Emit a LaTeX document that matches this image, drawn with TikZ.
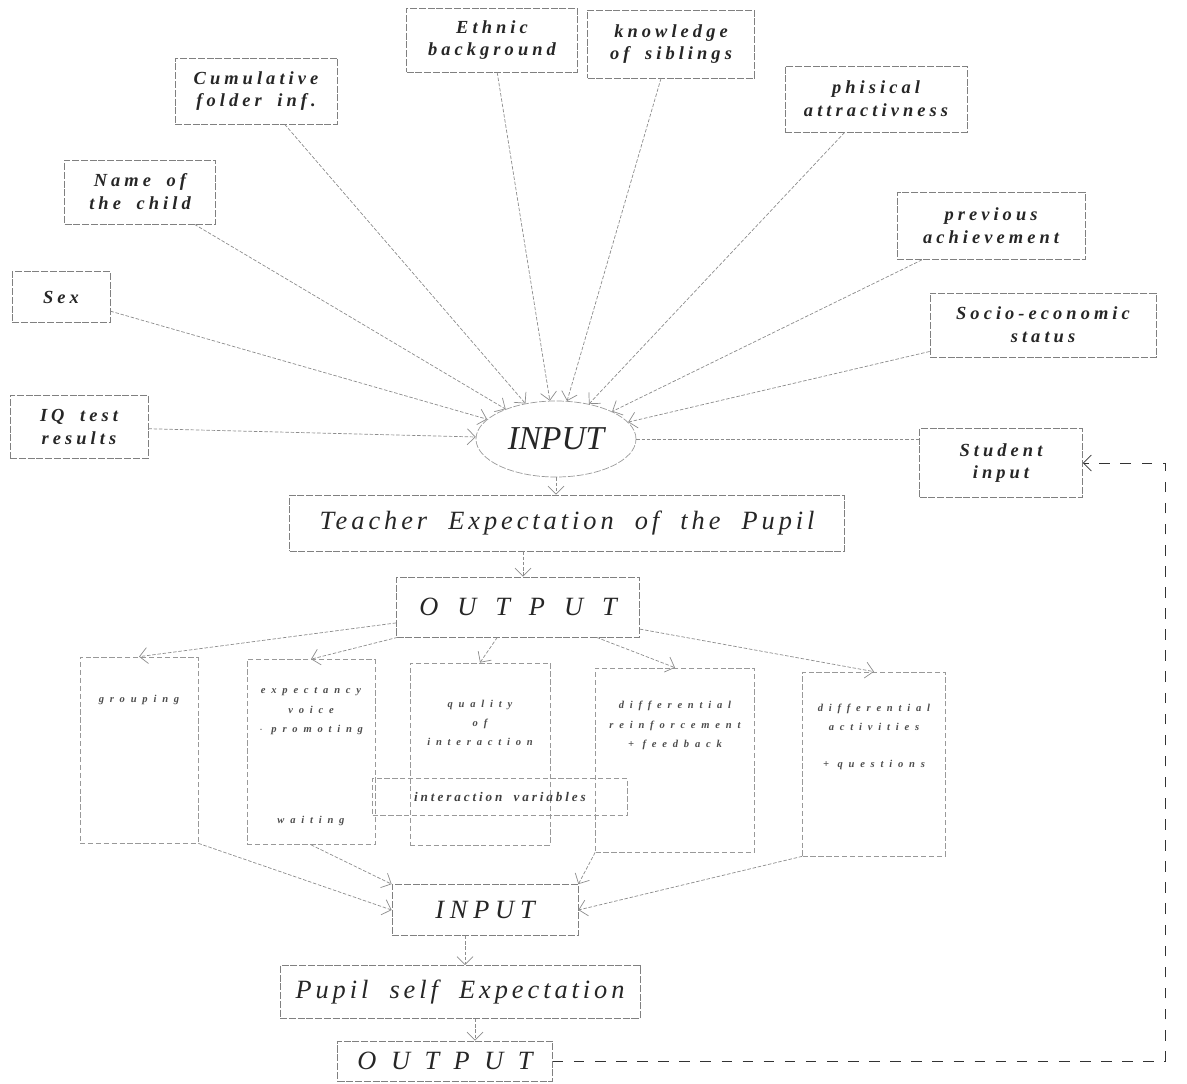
\documentclass[tikz,border=0pt]{standalone}
\usepackage{fontspec}
\setmainfont{Liberation Serif}
\newfontfamily\wide[LetterSpace=22,WordSpace=1.8]{Liberation Serif}
\newfontfamily\wider[LetterSpace=55,WordSpace=1.6]{Liberation Serif}
\newfontfamily\slight[LetterSpace=15,WordSpace=2]{Liberation Serif}
\newfontfamily\spread[LetterSpace=72]{Liberation Serif}
\newfontfamily\spreadless[LetterSpace=55]{Liberation Serif}
\usepackage{tikz}
\usetikzlibrary{arrows.meta,positioning,shapes.geometric}

\begin{document}
\begin{tikzpicture}[
    >={Straight Barb[length=1.6mm]},
    link/.style={->,thin,draw=black!45,dash pattern=on 2pt off 1pt},
    plain/.style={thin,draw=black!45,dash pattern=on 2pt off 1pt},
    feedback/.style={->,thin,draw=black!80,dash pattern=on 6pt off 6pt},
    box/.style={draw=black!50,thin,dash pattern=on 4pt off 1pt,
      align=center,inner sep=2pt,text=black!85},
    factor/.style={box,font=\wide\bfseries\itshape\fontsize{10.5}{13}\selectfont},
    stage/.style={box,font=\slight\itshape\fontsize{15}{18}\selectfont},
    hub/.style={ellipse,draw=black!40,thin,dash pattern=on 4pt off 1pt,
      font=\itshape\fontsize{19}{22}\selectfont,text=black!85},
    act/.style={draw=black!40,thin,dash pattern=on 3pt off 1.5pt},
    tiny/.style={align=center,text=black!70,
      font=\wider\bfseries\itshape\fontsize{6}{11}\selectfont}
  ]
    \useasboundingbox (0,0) rectangle (23.74,-21.66);

    % factors known to the teacher
    \node[factor,minimum width=3.42cm,minimum height=1.28cm] (ethnic) at (9.84,-0.80) {Ethnic\\background};
    \node[factor,minimum width=3.34cm,minimum height=1.36cm] (siblings) at (13.42,-0.88) {knowledge\\of siblings};
    \node[factor,minimum width=3.24cm,minimum height=1.32cm] (folder) at (5.12,-1.82) {Cumulative\\folder inf.};
    \node[factor,minimum width=3.64cm,minimum height=1.32cm] (looks) at (17.52,-1.98) {phisical\\attractivness};
    \node[factor,minimum width=3.02cm,minimum height=1.28cm] (name) at (2.80,-3.84) {Name of\\the child};
    \node[factor,minimum width=3.76cm,minimum height=1.34cm] (prev) at (19.82,-4.52) {previous\\achievement};
    \node[factor,minimum width=1.96cm,minimum height=1.02cm] (sex) at (1.22,-5.94) {Sex};
    \node[factor,minimum width=4.52cm,minimum height=1.28cm] (socio) at (20.86,-6.50) {Socio-economic\\status};
    \node[factor,minimum width=2.76cm,minimum height=1.26cm] (iq) at (1.58,-8.54) {IQ test\\results};
    \node[factor,minimum width=3.26cm,minimum height=1.38cm] (student) at (20.02,-9.26) {Student\\input};

    \node[hub,minimum width=3.2cm,minimum height=1.52cm] (inp1) at (11.12,-8.78) {INPUT};
    \node[stage,minimum width=11.1cm,minimum height=1.12cm] (teacher) at (11.34,-10.46) {Teacher Expectation of the Pupil};
    \node[stage,minimum width=4.86cm,minimum height=1.2cm,font=\spread\itshape\fontsize{15}{18}\selectfont] (out1) at (10.36,-12.14) {OUTPUT};

    % interaction variables
    \node[act,minimum width=2.36cm,minimum height=3.72cm] (g1) at (2.78,-15.00) {};
    \node[act,minimum width=2.56cm,minimum height=3.70cm] (g2) at (6.22,-15.04) {};
    \node[act,minimum width=2.80cm,minimum height=3.64cm] (g3) at (9.60,-15.08) {};
    \node[act,minimum width=3.18cm,minimum height=3.68cm] (g4) at (13.50,-15.20) {};
    \node[act,minimum width=2.86cm,minimum height=3.68cm] (g5) at (17.48,-15.28) {};
    \node[tiny,below=0.64cm of g1.north] (t1) {grouping};
    \node[tiny,below=0.45cm of g2.north] (t2) {expectancy\\voice\\$\cdot$ promoting};
    \node[tiny,above=0.25cm of g2.south] (t2b) {waiting};
    \node[tiny,below=0.62cm of g3.north] (t3) {quality\\of\\interaction};
    \node[tiny,below=0.55cm of g4.north] (t4) {differential\\reinforcement\\+ feedback};
    \node[tiny,below=0.52cm of g5.north] (t5) {differential\\activities};
    \node[tiny,below=1.65cm of g5.north] (t5b) {+ questions};
    \node[act,minimum width=5.1cm,minimum height=0.74cm,
      font=\wide\bfseries\itshape\fontsize{7.5}{9}\selectfont,text=black!75] (ivar) at (10.0,-15.94) {interaction variables};

    \node[stage,minimum width=3.72cm,minimum height=1.02cm] (inp2) at (9.70,-18.20) {\wide INPUT};
    \node[stage,minimum width=7.2cm,minimum height=1.06cm] (pupil) at (9.20,-19.84) {Pupil self Expectation};
    \node[stage,minimum width=4.3cm,minimum height=0.8cm,font=\spreadless\itshape\fontsize{15}{18}\selectfont] (out2) at (8.90,-21.22) {OUTPUT};
    \coordinate (fbk) at (23.3,0);

    \foreach \f in {ethnic,siblings,folder,looks,name,prev,sex,socio,iq}
      \draw[link] (\f) -- (inp1);
    \draw[plain] (inp1.east) -- (student.west |- inp1.east);
    \draw[link] (inp1.south) -- (inp1.south |- teacher.north);
    \draw[link] ([xshift=0.1cm]out1.north |- teacher.south) -- ([xshift=0.1cm]out1.north);
    \foreach \g in {g1,g2,g3,g4,g5}
      \draw[link] (out1) -- (\g.north);
    \draw[link] (g1.south east) -- (inp2.west);
    \draw[link] (g2.south) -- (inp2.north west);
    \draw[link] (g4.south west) -- (inp2.north east);
    \draw[link] (g5.south west) -- (inp2.east);
    \draw[link] ([xshift=-0.4cm]inp2.south) -- ([xshift=-0.4cm]inp2.south |- pupil.north);
    \draw[link] ([xshift=0.3cm]pupil.south) -- ([xshift=0.3cm]pupil.south |- out2.north);
    \draw[feedback] (out2.east) -| (fbk |- student.east) -- (student.east);
  \end{tikzpicture}
\end{document}
